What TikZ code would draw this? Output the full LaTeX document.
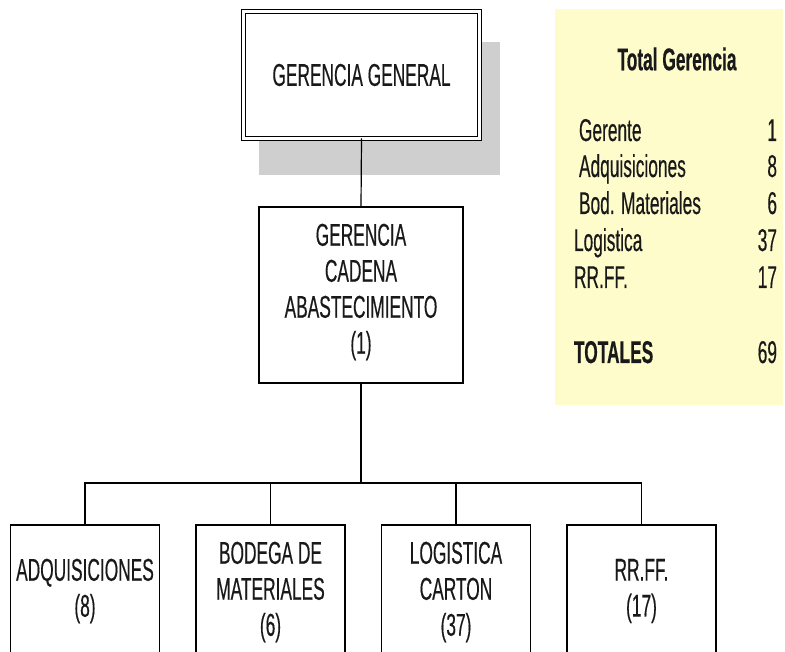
\documentclass[tikz,border=0pt]{standalone}
\usepackage{fontspec}
\setmainfont[FakeStretch=0.55, FakeBold=0.35]{Liberation Sans}
\begin{document}
\begin{tikzpicture}[x=1pt,y=-1pt,
  every node/.style={inner sep=0pt, outer sep=0pt},
  txt/.style={font=\fontsize{31.5}{36}\selectfont, align=center, text=black!90},
  tbl/.style={font=\fontsize{31.5}{36}\selectfont, text=black!90},
  unit/.style={draw=black, line width=1.4pt, fill=white, minimum width=149pt, minimum height=175pt},
  wire/.style={draw=black, line width=1.2pt}]
\useasboundingbox (0,0) rectangle (785,652);
\clip (0,0) rectangle (785,652);

% summary panel
\fill[yellow!20] (555,9) rectangle (783,405);
\node[tbl, font=\fontsize{31.5}{36}\selectfont\bfseries] (tt) at (677,59) {Total Gerencia};
\node[tbl, anchor=base west] (l1) at (579,141) {Gerente};
\node[tbl, anchor=base west] (l2) at (579,177) {Adquisiciones};
\node[tbl, anchor=base west] (l3) at (579,214) {Bod. Materiales};
\node[tbl, anchor=base west] (l4) at (574,251) {Logistica};
\node[tbl, anchor=base west] (l5) at (574,288) {RR.FF.};
\node[tbl, anchor=base west, font=\fontsize{31.5}{36}\selectfont\bfseries] (l6) at (574,363) {TOTALES};
\node[tbl, anchor=base east] (n1) at (777,141) {1};
\node[tbl, anchor=base east] (n2) at (777,177) {8};
\node[tbl, anchor=base east] (n3) at (777,214) {6};
\node[tbl, anchor=base east] (n4) at (777,251) {37};
\node[tbl, anchor=base east] (n5) at (777,288) {17};
\node[tbl, anchor=base east] (n6) at (777,363) {69};

% top management box with drop shadow
\fill[black!19] (259,42) rectangle (500,175);
\node[draw=black, fill=white, double, double distance=2.4pt, line width=1.3pt,
      minimum width=236pt, minimum height=127pt, txt] (gg) at (361.5,75) {GERENCIA GENERAL};

% supply chain management
\node[draw=black, line width=1.4pt, fill=white, minimum width=204pt, minimum height=176pt] (gca) at (361,295) {};
\node[txt, text width=200pt] (gcat) at (361,292) {GERENCIA\\CADENA\\ABASTECIMIENTO\\(1)};

% departments
\node[unit] (b1) at (85,612.5) {};
\node[unit] (b2) at (270.5,612.5) {};
\node[unit] (b3) at (456,612.5) {};
\node[unit] (b4) at (641.5,612.5) {};
\node[txt] (t1) at (85,591) {ADQUISICIONES\\(8)};
\node[txt] (t2) at (270.5,592) {BODEGA DE\\MATERIALES\\(6)};
\node[txt] (t3) at (456,592) {LOGISTICA\\CARTON\\(37)};
\node[txt] (t4) at (641.5,591) {RR.FF.\\(17)};

% connectors
\coordinate (bus) at (361,483);
\draw[wire] (gg.south) -- (gca.north);
\draw[wire] (gca.south) -- (bus);
\draw[wire] (b1.north) |- (bus) -| (b4.north);
\draw[wire] (b2.north) -- (b2.north |- bus);
\draw[wire] (b3.north) -- (b3.north |- bus);
\end{tikzpicture}
\end{document}
